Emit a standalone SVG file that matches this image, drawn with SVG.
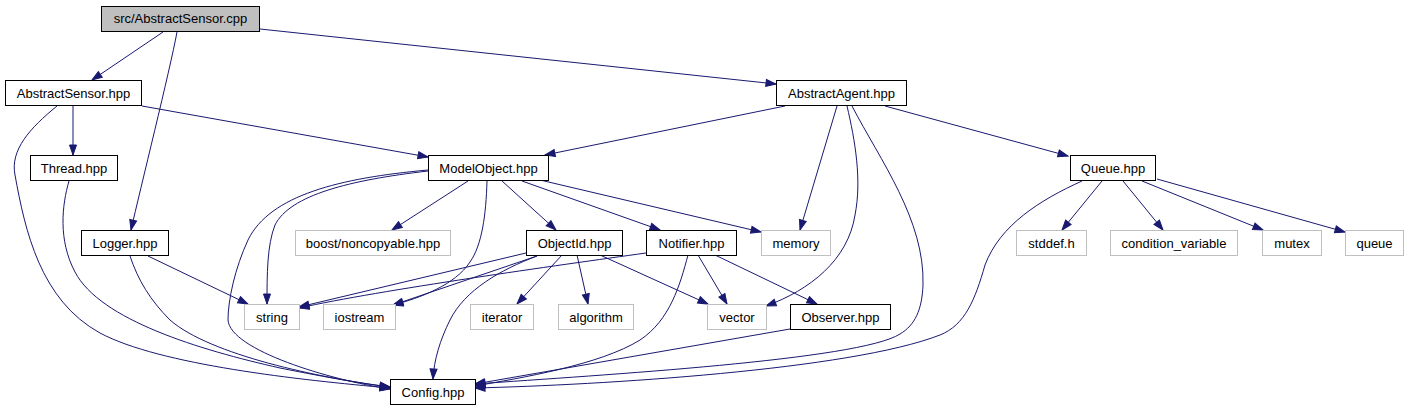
<svg xmlns="http://www.w3.org/2000/svg" width="1408" height="411" viewBox="0 0 1408 411">
<style>
.n rect{fill:#fff;stroke:#000;stroke-width:1}
.x rect{fill:#fff;stroke:#bfbfbf;stroke-width:1}
.r rect{fill:#bfbfbf;stroke:#000;stroke-width:1}
text{font-family:"Liberation Sans",Arial,sans-serif;font-size:13px;fill:#000;text-anchor:middle}
#edges path{fill:none;stroke:#191970;stroke-width:1;marker-end:url(#a)}
</style>
<defs>
<marker id="a" markerWidth="12" markerHeight="9" refX="10" refY="3.5" orient="auto" markerUnits="userSpaceOnUse" overflow="visible">
<path d="M0,0 L10,3.5 L0,7 z" fill="#191970" stroke="#191970" stroke-width="1"/>
</marker>
</defs>
<rect width="1408" height="411" fill="#fff"/>
<g id="edges">
<path d="M163,32 L92,80"/>
<path d="M177,32 C170,70 140,190 131,230"/>
<path d="M260,29 L776,84"/>
<path d="M73,106 L73,155"/>
<path d="M142,106 L428,157"/>
<path d="M57,106 C30,128 10,150 15,175 C25,230 40,300 100,333 C160,365 300,380 390,388"/>
<path d="M69,181 C62,205 58,240 75,272 C100,320 200,350 280,368 C330,378 365,384 390,387"/>
<path d="M130,256 C138,280 150,300 170,320 C210,355 320,378 390,387"/>
<path d="M148,256 L248,304"/>
<path d="M428,171 C350,180 290,195 275,225 C267,245 267,275 267,304"/>
<path d="M428,170 C340,178 270,195 248,240 C235,268 228,300 228,320 C230,350 330,380 390,389"/>
<path d="M468,181 L392,230"/>
<path d="M487,181 C486,215 482,245 470,262 C455,285 420,298 393,305"/>
<path d="M502,181 L556,230"/>
<path d="M522,181 L660,230"/>
<path d="M540,180 L761,232"/>
<path d="M785,106 L545,155"/>
<path d="M837,106 L800,230"/>
<path d="M847,106 C855,140 862,180 855,215 C848,260 810,290 766,306"/>
<path d="M852,106 C880,160 925,220 923,285 C922,310 915,325 900,334 C860,360 600,375 475,384"/>
<path d="M885,106 L1068,156"/>
<path d="M1102,181 L1062,230"/>
<path d="M1123,181 L1163,230"/>
<path d="M1142,181 L1263,230"/>
<path d="M1157,179 L1345,232"/>
<path d="M1082,181 C1040,200 1000,225 985,265 C975,300 965,325 940,335 C850,370 600,385 475,388"/>
<path d="M526,253 L299,307"/>
<path d="M537,256 L393,305"/>
<path d="M537,256 C500,270 465,290 450,320 C440,340 434,360 433,379"/>
<path d="M562,255 L517,304"/>
<path d="M577,255 L588,304"/>
<path d="M600,255 L708,304"/>
<path d="M646,253 C560,265 380,290 299,308"/>
<path d="M688,255 C680,285 670,320 640,340 C600,365 520,378 475,386"/>
<path d="M698,255 L727,304"/>
<path d="M715,255 L817,304"/>
<path d="M790,329 L475,384"/>
</g>
<g id="node-cpp" class="r"><rect x="101.5" y="6.5" width="158" height="25"/><text x="180.5" y="23">src/AbstractSensor.cpp</text></g>
<g id="node-abstractsensor" class="n"><rect x="5.5" y="80.5" width="136" height="25"/><text x="73.5" y="97.5">AbstractSensor.hpp</text></g>
<g id="node-abstractagent" class="n"><rect x="776.5" y="80.5" width="130" height="25"/><text x="841.5" y="97.5">AbstractAgent.hpp</text></g>
<g id="node-thread" class="n"><rect x="30.5" y="155.5" width="87" height="25"/><text x="74" y="172.5">Thread.hpp</text></g>
<g id="node-modelobject" class="n"><rect x="428.5" y="155.5" width="120" height="25"/><text x="488.5" y="172.5">ModelObject.hpp</text></g>
<g id="node-queuehpp" class="n"><rect x="1070.5" y="155.5" width="85" height="25"/><text x="1113" y="172.5">Queue.hpp</text></g>
<g id="node-logger" class="n"><rect x="81.5" y="230.5" width="87" height="25"/><text x="125" y="247.5">Logger.hpp</text></g>
<g id="node-boost" class="x"><rect x="295.5" y="230.5" width="155" height="25"/><text x="373" y="247.5">boost/noncopyable.hpp</text></g>
<g id="node-objectid" class="n"><rect x="526.5" y="230.5" width="96" height="25"/><text x="574.5" y="247.5">ObjectId.hpp</text></g>
<g id="node-notifier" class="n"><rect x="646.5" y="230.5" width="90" height="25"/><text x="691.5" y="247.5">Notifier.hpp</text></g>
<g id="node-memory" class="x"><rect x="761.5" y="230.5" width="69" height="25"/><text x="796" y="247.5">memory</text></g>
<g id="node-stddef" class="x"><rect x="1016.5" y="230.5" width="70" height="25"/><text x="1051.5" y="247.5">stddef.h</text></g>
<g id="node-condvar" class="x"><rect x="1110.5" y="230.5" width="127" height="25"/><text x="1174" y="247.5">condition_variable</text></g>
<g id="node-mutex" class="x"><rect x="1262.5" y="230.5" width="59" height="25"/><text x="1292" y="247.5">mutex</text></g>
<g id="node-queue" class="x"><rect x="1345.5" y="230.5" width="58" height="25"/><text x="1374.5" y="247.5">queue</text></g>
<g id="node-string" class="x"><rect x="244.5" y="304.5" width="55" height="25"/><text x="272" y="321.5">string</text></g>
<g id="node-iostream" class="x"><rect x="323.5" y="304.5" width="72" height="25"/><text x="359.5" y="321.5">iostream</text></g>
<g id="node-iterator" class="x"><rect x="470.5" y="304.5" width="63" height="25"/><text x="502" y="321.5">iterator</text></g>
<g id="node-algorithm" class="x"><rect x="558.5" y="304.5" width="75" height="25"/><text x="596" y="321.5">algorithm</text></g>
<g id="node-vector" class="x"><rect x="707.5" y="304.5" width="59" height="25"/><text x="737" y="321.5">vector</text></g>
<g id="node-observer" class="n"><rect x="790.5" y="304.5" width="100" height="25"/><text x="840.5" y="321.5">Observer.hpp</text></g>
<g id="node-config" class="n"><rect x="390.5" y="379.5" width="85" height="25"/><text x="433" y="396.5">Config.hpp</text></g>
</svg>
